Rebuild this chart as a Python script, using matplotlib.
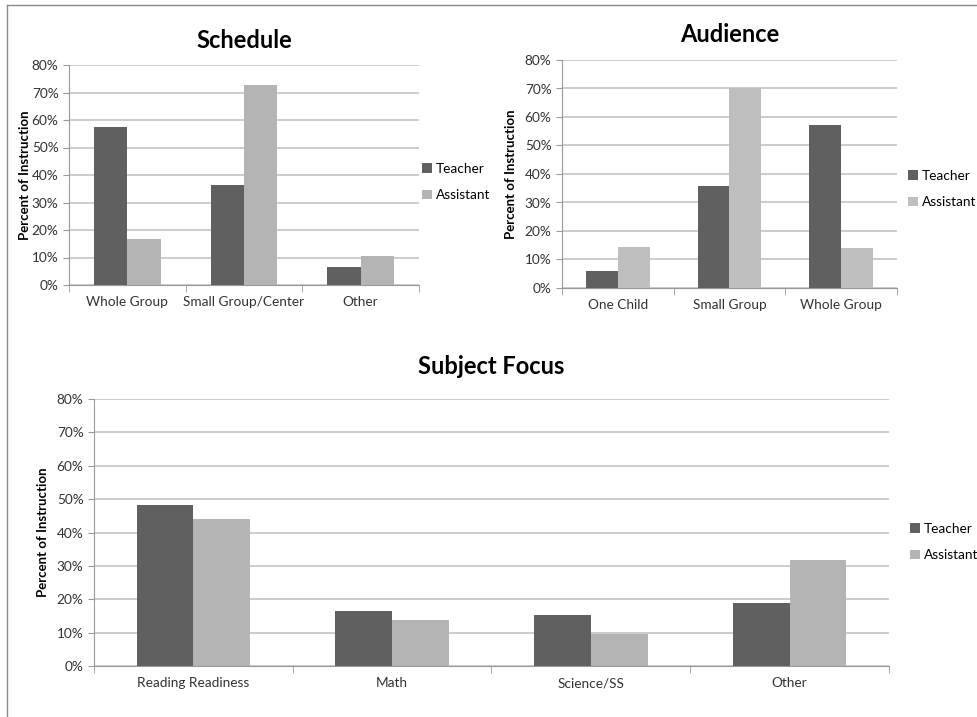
import matplotlib.pyplot as plt
from matplotlib.lines import Line2D
from matplotlib.ticker import FuncFormatter
import numpy as np

plt.rcParams['font.family'] = ['Lato', 'DejaVu Sans']

series = ['Teacher', 'Assistant']

schedule_cats = ['Whole Group', 'Small Group/Center', 'Other']
schedule_teacher = [57.3, 36.2, 6.6]
schedule_assistant = [16.9, 72.6, 10.4]

audience_cats = ['One Child', 'Small Group', 'Whole Group']
audience_teacher = [6.1, 35.9, 57.3]
audience_assistant = [14.5, 70.2, 14.2]

subject_cats = ['Reading Readiness', 'Math', 'Science/SS', 'Other']
subject_teacher = [48.3, 16.6, 15.3, 19.0]
subject_assistant = [44.1, 13.9, 9.6, 31.9]

DARK = '#606060'
LIGHT = '#b4b4b4'
GRID = '#c4c4c4'
W, H = 978, 717


def px_axes(fig, left, top, right, bottom):
    return fig.add_axes([left / W, 1 - bottom / H, (right - left) / W, (bottom - top) / H])


def bar_chart(ax, cats, teacher, assistant, title, title_y, ylab_x, legend_xy, light=LIGHT):
    n = len(cats)
    x = np.arange(n)
    bw = 1 / 3.5
    ax.bar(x - bw / 2, teacher, bw, color=DARK, label=series[0], zorder=3)
    ax.bar(x + bw / 2, assistant, bw, color=light, label=series[1], zorder=3)
    ax.set_xlim(-0.5, n - 0.5)
    ax.set_ylim(0, 80)
    ax.set_yticks(range(0, 81, 10))
    ax.yaxis.set_major_formatter(FuncFormatter(lambda v, p: '%d%%' % v))
    ax.grid(axis='y', color=GRID, linewidth=1.2, zorder=0)
    ax.set_xticks(x)
    ax.set_xticklabels(cats, fontsize=9.8, color='#333333')
    ax.set_xticks(np.arange(-0.5, n, 1), minor=True)
    ax.tick_params(axis='x', which='major', length=0, pad=8)
    ax.tick_params(axis='x', which='minor', length=5, color='#999999', direction='out')
    ax.tick_params(axis='y', labelsize=9.8, labelcolor='#333333', length=4, color='#999999')
    for s in ['top', 'right']:
        ax.spines[s].set_visible(False)
    for s in ['left', 'bottom']:
        ax.spines[s].set_color('#999999')
    fig = ax.figure
    bb = ax.get_position()
    fig.text(bb.x0 + bb.width / 2, 1 - title_y / H, title, ha='center', va='center',
             fontsize=17, fontweight='bold')
    fig.text(ylab_x / W, bb.y0 + bb.height / 2, 'Percent of Instruction', rotation=90,
             ha='center', va='center', fontsize=9.5, fontweight='bold')
    ax.legend(loc='upper left', bbox_to_anchor=(legend_xy[0] / W, 1 - legend_xy[1] / H),
              bbox_transform=fig.transFigure, frameon=False, fontsize=9.8,
              handlelength=0.7, handleheight=0.7, handletextpad=0.3, labelspacing=1.05,
              borderpad=0, borderaxespad=0)


fig = plt.figure(figsize=(W / 100, H / 100), dpi=100)

ax1 = px_axes(fig, 69, 65, 419, 285)
bar_chart(ax1, schedule_cats, schedule_teacher, schedule_assistant, 'Schedule', 40, 25, (422, 163))

ax2 = px_axes(fig, 562, 60, 897, 288)
bar_chart(ax2, audience_cats, audience_teacher, audience_assistant, 'Audience', 34, 511, (908, 170),
          light='#bebebe')

ax3 = px_axes(fig, 94, 399, 889, 666)
bar_chart(ax3, subject_cats, subject_teacher, subject_assistant, 'Subject Focus', 366, 43, (910, 523))

# outer frame lines (top and left)
fig.add_artist(Line2D([7 / W, 1], [1 - 5 / H, 1 - 5 / H], transform=fig.transFigure, color='#8a8a8a', lw=1))
fig.add_artist(Line2D([7 / W, 7 / W], [0, 1 - 5 / H], transform=fig.transFigure, color='#8a8a8a', lw=1))

fig.savefig('out.png', dpi=100)
